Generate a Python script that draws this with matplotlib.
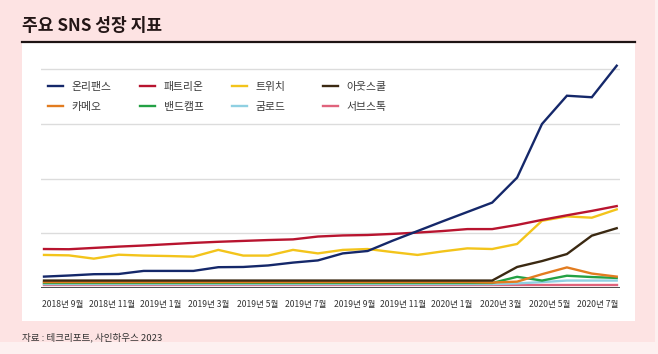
import numpy as np
import matplotlib.pyplot as plt
from matplotlib.patches import Rectangle
from matplotlib.legend import Legend

plt.rcParams['font.family'] = ['Noto Sans CJK KR', 'DejaVu Sans']

# monthly points, 2018-09 .. 2020-08 (no y scale shown; arbitrary index units)
months = np.arange(24)
tick_labels = ['2018년 9월', '2018년 11월', '2019년 1월', '2019년 3월', '2019년 5월',
               '2019년 7월', '2019년 9월', '2019년 11월', '2020년 1월', '2020년 3월',
               '2020년 5월', '2020년 7월']

onlyfans = [5.2, 5.7, 6.3, 6.4, 7.8, 7.8, 7.8, 9.5, 9.6, 10.3, 11.6, 12.6,
            15.8, 16.9, 21.6, 26.0, 30.4, 34.7, 39.0, 50.4, 74.9, 87.8, 87.1, 101.5]
patreon = [17.8, 17.7, 18.3, 18.9, 19.4, 20.0, 20.6, 21.1, 21.5, 21.9, 22.2, 23.5,
           24.0, 24.2, 24.7, 25.3, 26.0, 26.9, 26.9, 28.8, 31.1, 33.2, 35.2, 37.4]
twitch = [15.1, 14.9, 13.4, 15.2, 14.8, 14.6, 14.3, 17.4, 14.8, 14.8, 17.4, 15.8,
          17.4, 17.8, 16.4, 15.1, 16.7, 18.1, 17.8, 20.1, 30.7, 32.7, 32.1, 35.9]
outschool = [3.4] * 19 + [9.6, 12.3, 15.5, 23.9, 27.3]
cameo = [2.7] * 18 + [2.5, 2.9, 6.3, 9.4, 6.6, 5.2]
bandcamp = [2.3] * 19 + [5.1, 3.4, 5.6, 5.0, 4.6]
gumroad = [1.8] * 19 + [2.1, 2.7, 3.4, 3.4, 3.4]
substack = [1.2] * 24

names = ['온리팬스', '패트리온', '트위치', '아웃스쿨', '카메오', '밴드캠프', '굼로드', '서브스톡']
series = [onlyfans, patreon, twitch, outschool, cameo, bandcamp, gumroad, substack]
colors = ['#15286a', '#b8142f', '#f3c41b', '#3b2912', '#e27c20', '#23a145', '#8fd0e2', '#e0637c']

W, H = 658, 354
fig = plt.figure(figsize=(W / 100, H / 100), dpi=100)
fig.patch.set_facecolor('#fdf0f0')

def fx(px):
    return px / W

def fy(py):
    return 1 - py / H

# pink card, white panel and title rule
fig.add_artist(Rectangle((0, fy(342)), fx(655), 342 / H, transform=fig.transFigure,
                         facecolor='#fde3e3', edgecolor='none', zorder=0))
fig.add_artist(Rectangle((fx(22), fy(321)), fx(635 - 22), (321 - 43) / H,
                         transform=fig.transFigure, facecolor='white',
                         edgecolor='none', zorder=0))
fig.add_artist(plt.Line2D([fx(22), fx(635)], [fy(42), fy(42)], transform=fig.transFigure,
                          color='#1e1414', lw=1.6))

fig.text(fx(22), fy(26), '주요 SNS 성장 지표', fontsize=12.3, fontweight='bold',
         color='#231616', va='center', ha='left')
fig.text(fx(22), fy(337), '자료 : 테크리포트, 사인하우스 2023', fontsize=6.9,
         color='#333333', va='center', ha='left')

# axes: x index 0 at 44px, 23 at 616.7px; y 0 at 288px, 100 at 69px
left_px, right_px = 41, 620
ax_bottom, ax_top = 288, 58
ax = fig.add_axes([fx(left_px), fy(ax_bottom), fx(right_px - left_px), (ax_bottom - ax_top) / H])
ax.set_facecolor('none')
ppu = (616.7 - 44) / 23
ax.set_xlim(-(44 - left_px) / ppu, 23 + (right_px - 616.7) / ppu)
ax.set_ylim(0, (ax_bottom - ax_top) / 2.19)

for v in [25, 50, 75, 100]:
    ax.axhline(v, color='#dcdcdc', lw=1.0, zorder=1)
ax.axhline(0, color='#1c1c1c', lw=1.1, zorder=5)

lines = []
for i, (name, vals, c) in enumerate(zip(names, series, colors)):
    ln, = ax.plot(months, vals, color=c, lw=1.7, label=name, zorder=4 - i * 0.1,
                  solid_joinstyle='miter')
    lines.append(ln)

# tick labels spread evenly along the axis
tick_px = np.linspace(63, 598, len(tick_labels))
ax.set_xticks((tick_px - 44) / ppu)
ax.set_xticklabels(tick_labels, fontsize=6.2, color='#333333')
ax.tick_params(axis='x', length=0, pad=9)
ax.set_yticks([])
for s in ax.spines.values():
    s.set_visible(False)

# legend: four columns, two rows each
col_px = [48, 140, 232, 323]
for k in range(4):
    leg = Legend(ax, [lines[k], lines[k + 4]], [names[k], names[k + 4]],
                 loc='center left', bbox_to_anchor=(fx(col_px[k]), fy(97)),
                 bbox_transform=fig.transFigure, frameon=False, fontsize=7.8,
                 handlelength=1.4, handletextpad=0.8, labelspacing=0.95,
                 borderpad=0, borderaxespad=0)
    for t in leg.get_texts():
        t.set_color('#3a3a3a')
    ax.add_artist(leg)

fig.savefig('out.png', dpi=100, facecolor=fig.get_facecolor())
